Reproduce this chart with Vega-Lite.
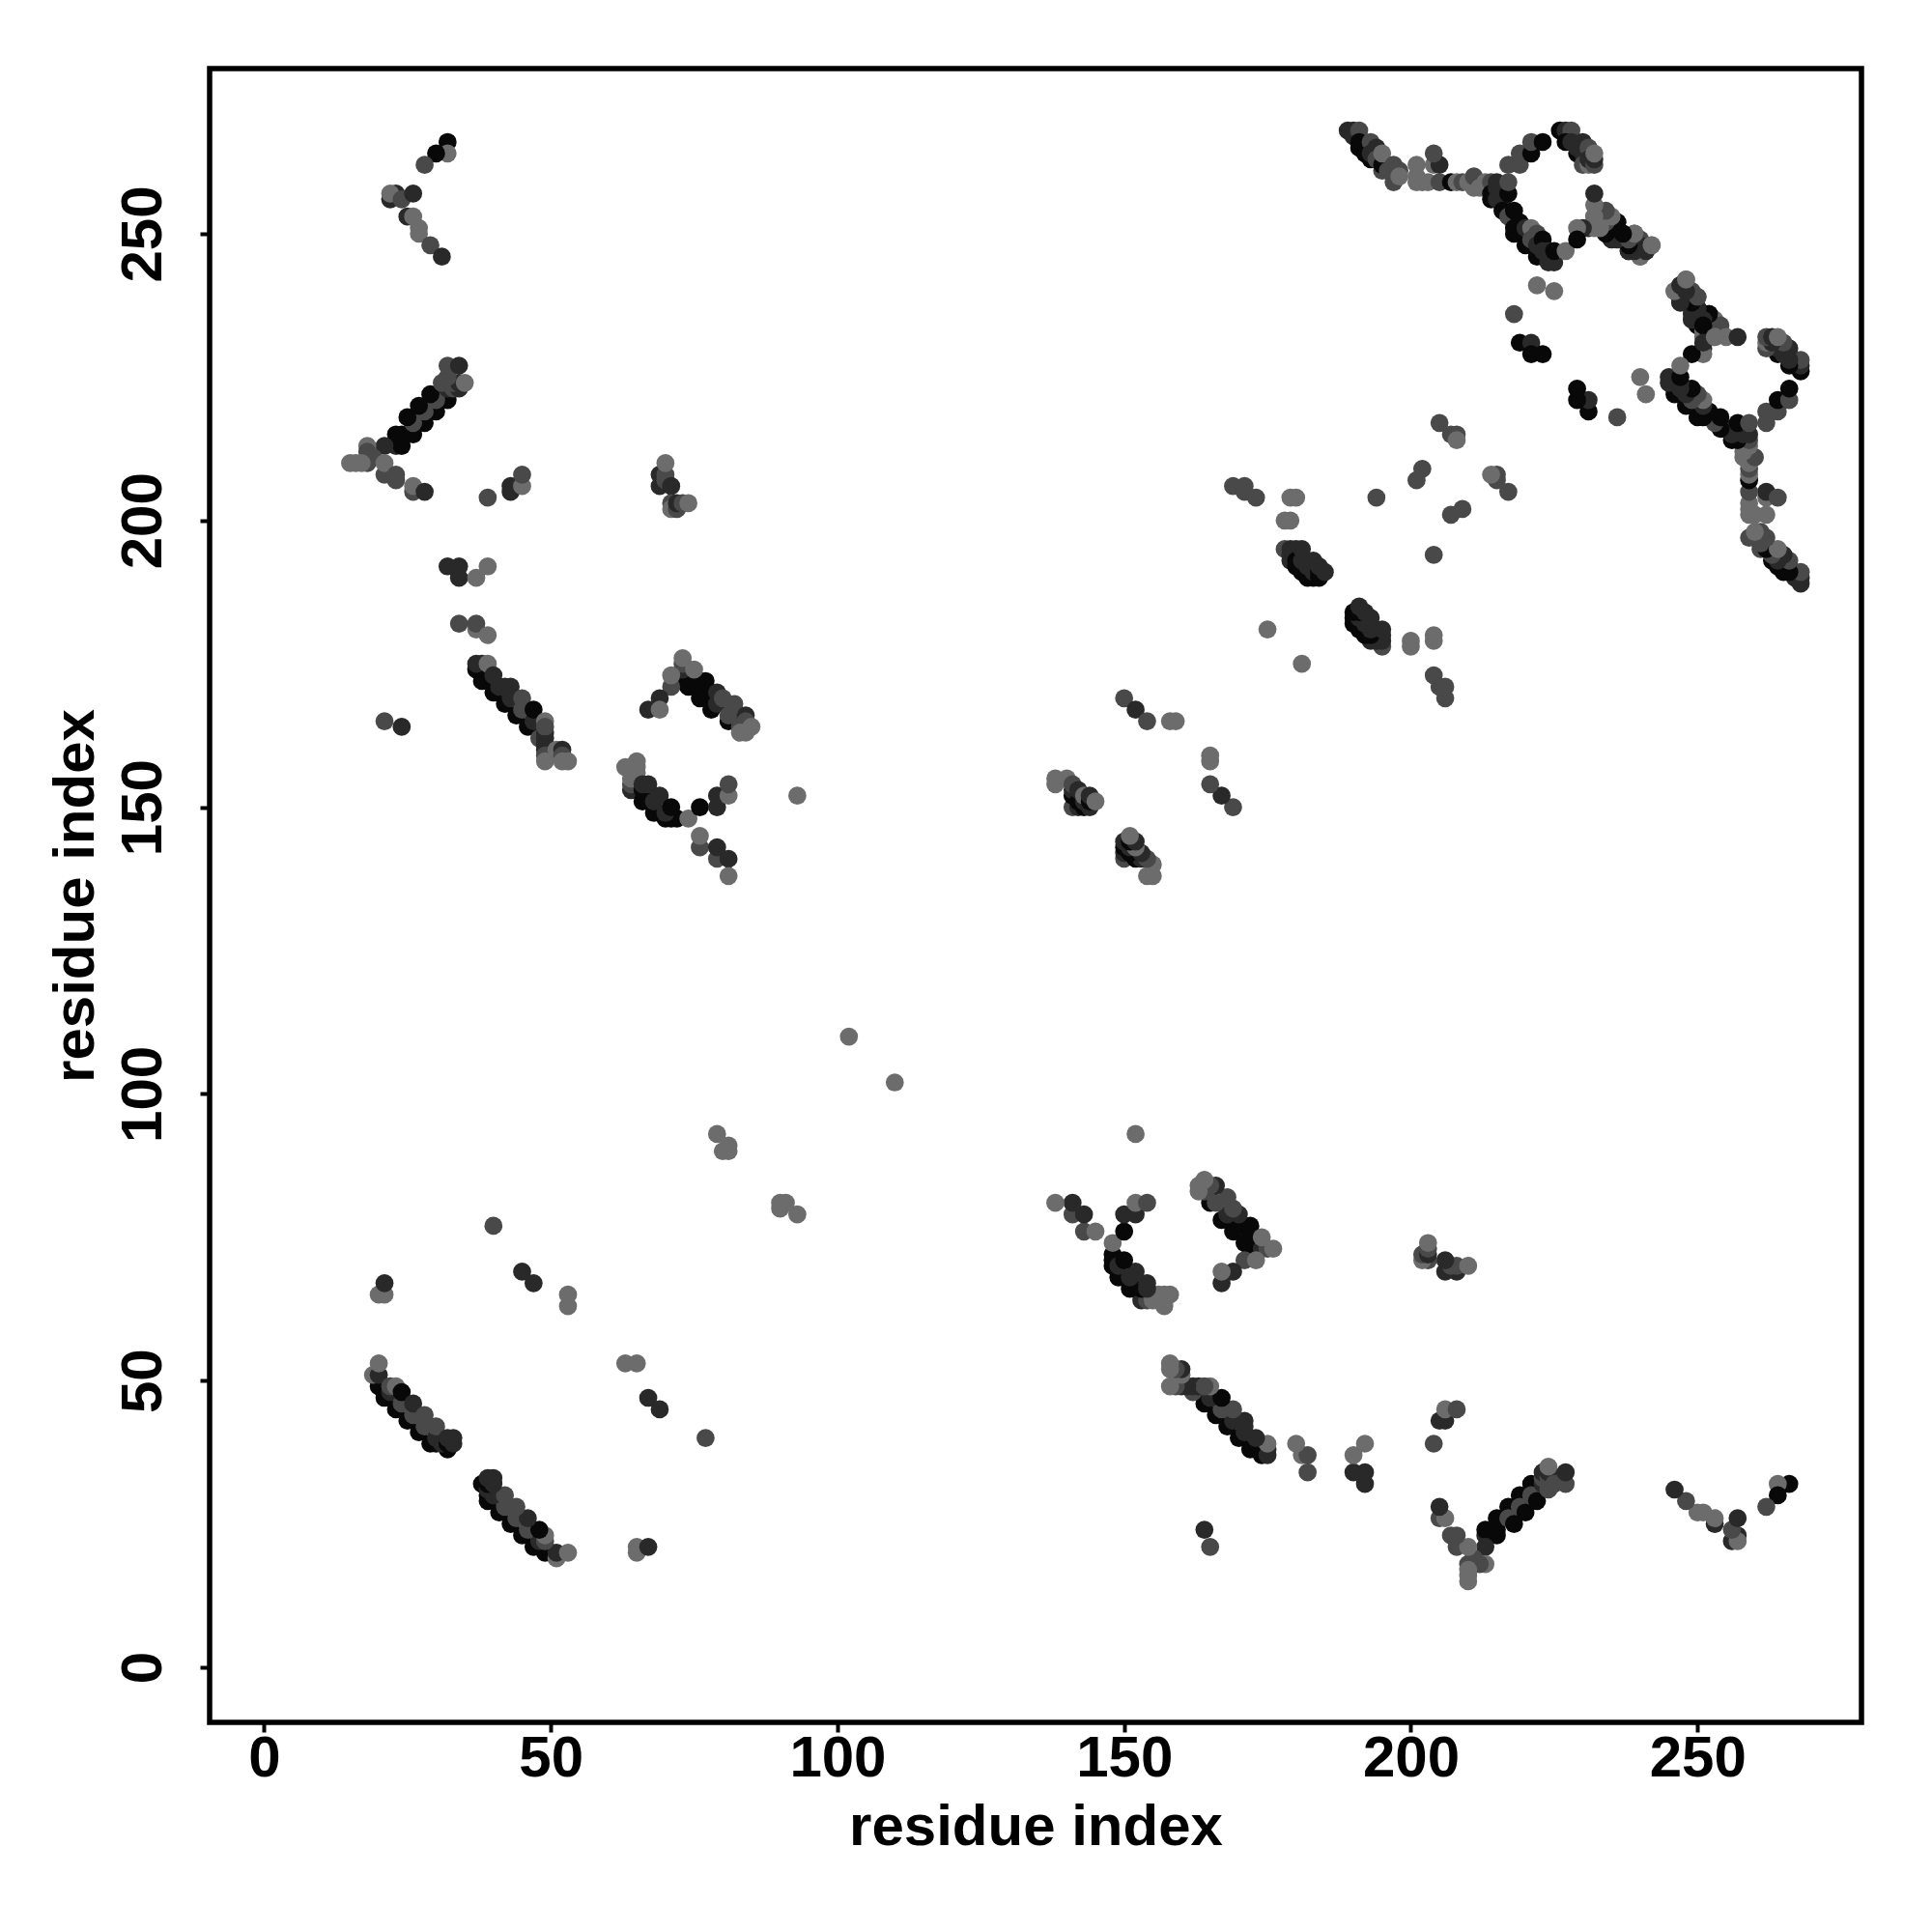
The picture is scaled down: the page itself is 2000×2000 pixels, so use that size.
{"$schema":"https://vega.github.io/schema/vega-lite/v6.json","width":1710,"height":1712,"autosize":{"type":"none"},"padding":{"left":217,"top":71,"right":73,"bottom":217},"background":"white","config":{"view":{"stroke":"#000000","strokeWidth":5.5},"axis":{"grid":false,"domain":false,"tickColor":"#000000","tickWidth":4,"tickSize":10,"labelFont":"Liberation Sans","labelFontWeight":"bold","labelFontSize":60,"labelColor":"#000000","titleFont":"Liberation Sans","titleFontWeight":"bold","titleFontSize":60,"titleColor":"#000000"}},"data":{"values":[
{"i":32,"j":266,"s":0},{"i":32,"j":264,"s":3},{"i":30,"j":264,"s":0},{"i":28,"j":262,"s":2},{"i":22,"j":256,"s":1},{"i":23,"j":257,"s":1},{"i":22,"j":257,"s":3},{"i":24,"j":256,"s":2},{"i":26,"j":257,"s":1},{"i":25,"j":253,"s":1},{"i":26,"j":253,"s":3},{"i":27,"j":250,"s":3},{"i":27,"j":251,"s":3},{"i":29,"j":248,"s":2},{"i":31,"j":246,"s":1},
{"i":23,"j":213,"s":1},{"i":24,"j":213,"s":0},{"i":26,"j":215,"s":0},{"i":28,"j":217,"s":0},{"i":30,"j":219,"s":0},{"i":32,"j":221,"s":0},{"i":24,"j":215,"s":0},{"i":26,"j":217,"s":2},{"i":28,"j":219,"s":2},{"i":30,"j":221,"s":2},{"i":23,"j":215,"s":0},{"i":25,"j":218,"s":0},{"i":27,"j":220,"s":0},{"i":29,"j":222,"s":0},{"i":32,"j":223,"s":1},{"i":31,"j":224,"s":2},{"i":33,"j":223,"s":2},{"i":34,"j":223,"s":1},{"i":33,"j":224,"s":2},{"i":34,"j":224,"s":1},{"i":35,"j":224,"s":3},{"i":32,"j":225,"s":2},{"i":32,"j":227,"s":2},{"i":34,"j":227,"s":1},{"i":21,"j":213,"s":1},{"i":18,"j":213,"s":3},{"i":18,"j":212,"s":2},{"i":19,"j":211,"s":2},{"i":18,"j":210,"s":2},{"i":15,"j":210,"s":3},{"i":16,"j":210,"s":3},{"i":17,"j":210,"s":3},{"i":21,"j":208,"s":2},{"i":21,"j":210,"s":3},{"i":23,"j":207,"s":2},{"i":23,"j":208,"s":2},{"i":26,"j":205,"s":2},{"i":26,"j":206,"s":3},{"i":28,"j":205,"s":1},
{"i":39,"j":204,"s":2},{"i":43,"j":205,"s":1},{"i":43,"j":206,"s":1},{"i":45,"j":206,"s":3},{"i":45,"j":208,"s":2},{"i":69,"j":206,"s":1},{"i":69,"j":208,"s":1},{"i":70,"j":207,"s":2},{"i":70,"j":208,"s":2},{"i":70,"j":210,"s":3},{"i":71,"j":206,"s":1},{"i":71,"j":203,"s":2},{"i":71,"j":202,"s":3},{"i":72,"j":202,"s":2},{"i":72,"j":203,"s":1},{"i":73,"j":203,"s":2},{"i":74,"j":203,"s":3},
{"i":32,"j":192,"s":1},{"i":34,"j":190,"s":1},{"i":34,"j":192,"s":1},{"i":37,"j":190,"s":3},{"i":39,"j":192,"s":3},{"i":34,"j":182,"s":2},{"i":37,"j":181,"s":3},{"i":37,"j":182,"s":2},{"i":39,"j":180,"s":3},{"i":21,"j":165,"s":2},{"i":24,"j":164,"s":1},
{"i":37,"j":174,"s":0},{"i":38,"j":172,"s":0},{"i":40,"j":170,"s":0},{"i":42,"j":168,"s":0},{"i":44,"j":166,"s":0},{"i":46,"j":164,"s":0},{"i":48,"j":162,"s":2},{"i":38,"j":175,"s":1},{"i":39,"j":173,"s":0},{"i":41,"j":171,"s":1},{"i":43,"j":169,"s":1},{"i":45,"j":167,"s":2},{"i":47,"j":165,"s":1},{"i":49,"j":163,"s":1},{"i":49,"j":162,"s":1},{"i":37,"j":175,"s":1},{"i":39,"j":175,"s":3},{"i":40,"j":173,"s":1},{"i":42,"j":171,"s":1},{"i":43,"j":171,"s":1},{"i":45,"j":169,"s":2},{"i":47,"j":167,"s":0},{"i":49,"j":165,"s":3},{"i":49,"j":164,"s":2},{"i":49,"j":161,"s":1},{"i":49,"j":160,"s":1},{"i":49,"j":159,"s":2},{"i":49,"j":158,"s":3},{"i":51,"j":160,"s":3},{"i":52,"j":160,"s":1},{"i":52,"j":159,"s":2},{"i":52,"j":158,"s":3},{"i":53,"j":158,"s":3},
{"i":73,"j":172,"s":0},{"i":74,"j":171,"s":0},{"i":76,"j":169,"s":0},{"i":78,"j":167,"s":0},{"i":81,"j":165,"s":0},{"i":75,"j":172,"s":0},{"i":77,"j":170,"s":0},{"i":79,"j":168,"s":1},{"i":81,"j":166,"s":2},{"i":83,"j":164,"s":2},{"i":76,"j":172,"s":0},{"i":77,"j":172,"s":0},{"i":79,"j":170,"s":1},{"i":80,"j":169,"s":2},{"i":82,"j":168,"s":2},{"i":84,"j":166,"s":1},{"i":73,"j":174,"s":1},{"i":73,"j":175,"s":2},{"i":73,"j":176,"s":3},{"i":75,"j":174,"s":3},{"i":71,"j":171,"s":2},{"i":71,"j":173,"s":3},{"i":69,"j":169,"s":1},{"i":67,"j":167,"s":1},{"i":69,"j":167,"s":3},{"i":84,"j":165,"s":2},{"i":83,"j":163,"s":3},{"i":84,"j":163,"s":3},{"i":85,"j":164,"s":3},
{"i":64,"j":153,"s":1},{"i":64,"j":154,"s":2},{"i":64,"j":155,"s":3},{"i":65,"j":156,"s":3},{"i":63,"j":157,"s":3},{"i":65,"j":157,"s":3},{"i":65,"j":158,"s":3},{"i":66,"j":151,"s":0},{"i":68,"j":149,"s":0},{"i":70,"j":148,"s":0},{"i":71,"j":148,"s":0},{"i":72,"j":148,"s":0},{"i":66,"j":153,"s":0},{"i":68,"j":151,"s":1},{"i":70,"j":149,"s":1},{"i":66,"j":154,"s":1},{"i":67,"j":154,"s":1},{"i":69,"j":152,"s":1},{"i":71,"j":150,"s":0},{"i":74,"j":148,"s":3},{"i":76,"j":150,"s":0},{"i":79,"j":150,"s":1},{"i":79,"j":152,"s":1},{"i":81,"j":152,"s":3},{"i":81,"j":154,"s":2},{"i":93,"j":152,"s":3},{"i":76,"j":143,"s":2},{"i":76,"j":145,"s":3},{"i":79,"j":141,"s":2},{"i":79,"j":143,"s":1},{"i":81,"j":141,"s":1},{"i":81,"j":138,"s":3},
{"i":79,"j":93,"s":3},{"i":80,"j":90,"s":3},{"i":81,"j":91,"s":3},{"i":81,"j":90,"s":3},{"i":102,"j":110,"s":3},
{"i":20,"j":49,"s":0},{"i":21,"j":47,"s":0},{"i":23,"j":45,"s":0},{"i":25,"j":43,"s":0},{"i":27,"j":41,"s":0},{"i":29,"j":39,"s":0},{"i":30,"j":39,"s":0},{"i":32,"j":38,"s":0},{"i":20,"j":50,"s":0},{"i":22,"j":48,"s":1},{"i":24,"j":46,"s":2},{"i":26,"j":44,"s":2},{"i":28,"j":42,"s":2},{"i":30,"j":40,"s":1},{"i":31,"j":39,"s":1},{"i":32,"j":39,"s":0},{"i":33,"j":39,"s":1},{"i":19,"j":51,"s":3},{"i":20,"j":51,"s":1},{"i":20,"j":53,"s":3},{"i":22,"j":49,"s":2},{"i":23,"j":49,"s":3},{"i":24,"j":48,"s":0},{"i":26,"j":46,"s":1},{"i":28,"j":44,"s":2},{"i":30,"j":42,"s":2},{"i":32,"j":40,"s":1},{"i":33,"j":40,"s":1},
{"i":20,"j":65,"s":3},{"i":21,"j":65,"s":3},{"i":21,"j":67,"s":1},{"i":40,"j":77,"s":2},{"i":45,"j":69,"s":1},{"i":47,"j":67,"s":1},{"i":53,"j":63,"s":3},{"i":53,"j":65,"s":3},
{"i":189,"j":268,"s":1},{"i":190,"j":268,"s":1},{"i":190,"j":267,"s":1},{"i":191,"j":268,"s":2},{"i":191,"j":266,"s":0},{"i":191,"j":265,"s":0},{"i":192,"j":265,"s":0},{"i":192,"j":264,"s":0},{"i":193,"j":263,"s":0},{"i":193,"j":265,"s":0},{"i":193,"j":266,"s":2},{"i":194,"j":265,"s":1},{"i":193,"j":264,"s":1},{"i":194,"j":263,"s":2},{"i":195,"j":261,"s":2},{"i":195,"j":262,"s":0},{"i":195,"j":264,"s":3},{"i":196,"j":261,"s":2},{"i":197,"j":259,"s":2},{"i":197,"j":260,"s":2},{"i":197,"j":262,"s":2},{"i":198,"j":261,"s":2},{"i":198,"j":260,"s":3},
{"i":201,"j":259,"s":3},{"i":202,"j":259,"s":3},{"i":201,"j":260,"s":3},{"i":201,"j":262,"s":3},{"i":204,"j":262,"s":3},{"i":205,"j":262,"s":1},{"i":204,"j":264,"s":2},{"i":203,"j":259,"s":3},{"i":205,"j":259,"s":2},{"i":207,"j":259,"s":0},{"i":208,"j":259,"s":3},{"i":209,"j":259,"s":2},{"i":210,"j":259,"s":3},{"i":211,"j":258,"s":3},{"i":211,"j":260,"s":2},{"i":212,"j":258,"s":3},{"i":213,"j":259,"s":3},{"i":214,"j":259,"s":2},
{"i":214,"j":257,"s":0},{"i":214,"j":256,"s":0},{"i":215,"j":256,"s":1},{"i":215,"j":258,"s":1},{"i":215,"j":259,"s":1},{"i":216,"j":255,"s":1},{"i":216,"j":254,"s":0},{"i":217,"j":257,"s":0},{"i":217,"j":259,"s":2},{"i":217,"j":253,"s":2},{"i":218,"j":254,"s":0},{"i":218,"j":251,"s":0},{"i":218,"j":250,"s":0},{"i":219,"j":252,"s":0},{"i":220,"j":251,"s":1},{"i":221,"j":251,"s":3},{"i":220,"j":248,"s":0},{"i":221,"j":249,"s":2},{"i":222,"j":250,"s":2},{"i":222,"j":246,"s":0},{"i":222,"j":248,"s":1},{"i":223,"j":249,"s":0},{"i":223,"j":247,"s":1},{"i":224,"j":245,"s":1},{"i":224,"j":247,"s":1},{"i":225,"j":245,"s":1},{"i":225,"j":247,"s":0},{"i":227,"j":247,"s":3},
{"i":217,"j":262,"s":2},{"i":219,"j":262,"s":2},{"i":219,"j":264,"s":2},{"i":221,"j":264,"s":0},{"i":221,"j":266,"s":2},{"i":223,"j":266,"s":0},{"i":226,"j":268,"s":0},{"i":227,"j":268,"s":1},{"i":228,"j":268,"s":2},{"i":227,"j":266,"s":0},{"i":229,"j":264,"s":0},{"i":228,"j":266,"s":1},{"i":229,"j":265,"s":1},{"i":230,"j":266,"s":1},{"i":230,"j":264,"s":1},{"i":231,"j":265,"s":2},{"i":230,"j":262,"s":2},{"i":231,"j":262,"s":3},{"i":231,"j":263,"s":1},{"i":232,"j":262,"s":2},{"i":232,"j":263,"s":1},{"i":232,"j":264,"s":3},
{"i":236,"j":252,"s":0},{"i":236,"j":250,"s":0},{"i":235,"j":249,"s":1},{"i":235,"j":251,"s":1},{"i":234,"j":251,"s":0},{"i":237,"j":250,"s":1},{"i":238,"j":249,"s":0},{"i":238,"j":247,"s":1},{"i":239,"j":250,"s":2},{"i":240,"j":249,"s":2},{"i":240,"j":246,"s":3},{"i":240,"j":248,"s":1},{"i":241,"j":247,"s":1},{"i":242,"j":248,"s":3},
{"i":222,"j":241,"s":3},{"i":225,"j":240,"s":3},{"i":218,"j":236,"s":2},{"i":219,"j":231,"s":0},{"i":221,"j":231,"s":1},{"i":221,"j":229,"s":0},{"i":223,"j":229,"s":0},
{"i":246,"j":240,"s":3},{"i":247,"j":241,"s":1},{"i":247,"j":239,"s":1},{"i":247,"j":238,"s":1},{"i":248,"j":238,"s":0},{"i":248,"j":242,"s":3},{"i":249,"j":236,"s":1},{"i":249,"j":238,"s":2},{"i":250,"j":239,"s":3},{"i":250,"j":237,"s":0},{"i":251,"j":236,"s":0},{"i":250,"j":234,"s":0},{"i":252,"j":236,"s":0},{"i":251,"j":235,"s":0},{"i":252,"j":234,"s":2},{"i":253,"j":235,"s":3},{"i":254,"j":234,"s":2},{"i":251,"j":233,"s":3},{"i":251,"j":232,"s":3},{"i":253,"j":232,"s":3},{"i":255,"j":232,"s":3},{"i":257,"j":232,"s":1},{"i":251,"j":230,"s":1},{"i":251,"j":229,"s":3},{"i":249,"j":229,"s":0},{"i":231,"j":251,"s":1},{"i":232,"j":253,"s":3},
{"i":138,"j":155,"s":3},{"i":138,"j":154,"s":3},{"i":140,"j":155,"s":3},{"i":141,"j":150,"s":2},{"i":141,"j":152,"s":0},{"i":141,"j":153,"s":1},{"i":141,"j":154,"s":2},{"i":142,"j":150,"s":1},{"i":142,"j":151,"s":0},{"i":142,"j":153,"s":1},{"i":143,"j":150,"s":0},{"i":143,"j":151,"s":1},{"i":143,"j":152,"s":3},{"i":144,"j":150,"s":1},{"i":144,"j":151,"s":0},{"i":144,"j":152,"s":1},{"i":145,"j":151,"s":3},
{"i":150,"j":169,"s":2},{"i":152,"j":167,"s":1},{"i":154,"j":165,"s":2},{"i":158,"j":165,"s":3},{"i":159,"j":165,"s":3},
{"i":178,"j":195,"s":2},{"i":179,"j":193,"s":1},{"i":179,"j":194,"s":1},{"i":179,"j":195,"s":1},{"i":180,"j":195,"s":1},{"i":180,"j":192,"s":0},{"i":180,"j":193,"s":0},{"i":181,"j":191,"s":0},{"i":181,"j":193,"s":1},{"i":181,"j":195,"s":1},{"i":182,"j":190,"s":0},{"i":182,"j":191,"s":0},{"i":182,"j":192,"s":1},{"i":183,"j":190,"s":0},{"i":183,"j":191,"s":1},{"i":183,"j":193,"s":1},{"i":184,"j":190,"s":0},{"i":184,"j":191,"s":0},{"i":184,"j":192,"s":1},{"i":185,"j":191,"s":1},
{"i":169,"j":206,"s":2},{"i":171,"j":205,"s":2},{"i":171,"j":206,"s":2},{"i":173,"j":204,"s":2},{"i":179,"j":204,"s":3},{"i":180,"j":204,"s":3},{"i":178,"j":200,"s":3},{"i":179,"j":200,"s":3},{"i":194,"j":204,"s":2},{"i":201,"j":207,"s":2},{"i":202,"j":209,"s":2},{"i":205,"j":217,"s":2},{"i":207,"j":215,"s":2},{"i":208,"j":215,"s":2},{"i":208,"j":214,"s":3},{"i":175,"j":181,"s":3}
]},"layer":[{"mark":{"type":"circle","size":350,"opacity":1},"encoding":{"x":{"field":"i","type":"quantitative","scale":{"domain":[-9.5,278.6],"nice":false,"zero":false},"axis":{"values":[0,50,100,150,200,250],"title":"residue index","labelPadding":-1.5,"titlePadding":12}},"y":{"field":"j","type":"quantitative","scale":{"domain":[-9.6,278.8],"nice":false,"zero":false},"axis":{"values":[0,50,100,150,200,250],"title":"residue index","labelAngle":-90,"labelAlign":"center","labelBaseline":"bottom","labelPadding":28,"titlePadding":9}},"color":{"field":"s","type":"quantitative","legend":null,"scale":{"domain":[0,3],"range":["#080808","#6c6c6c"]}}}},{"mark":{"type":"circle","size":350,"opacity":1},"encoding":{"x":{"field":"j","type":"quantitative"},"y":{"field":"i","type":"quantitative"},"color":{"field":"s","type":"quantitative","legend":null}}}]}
